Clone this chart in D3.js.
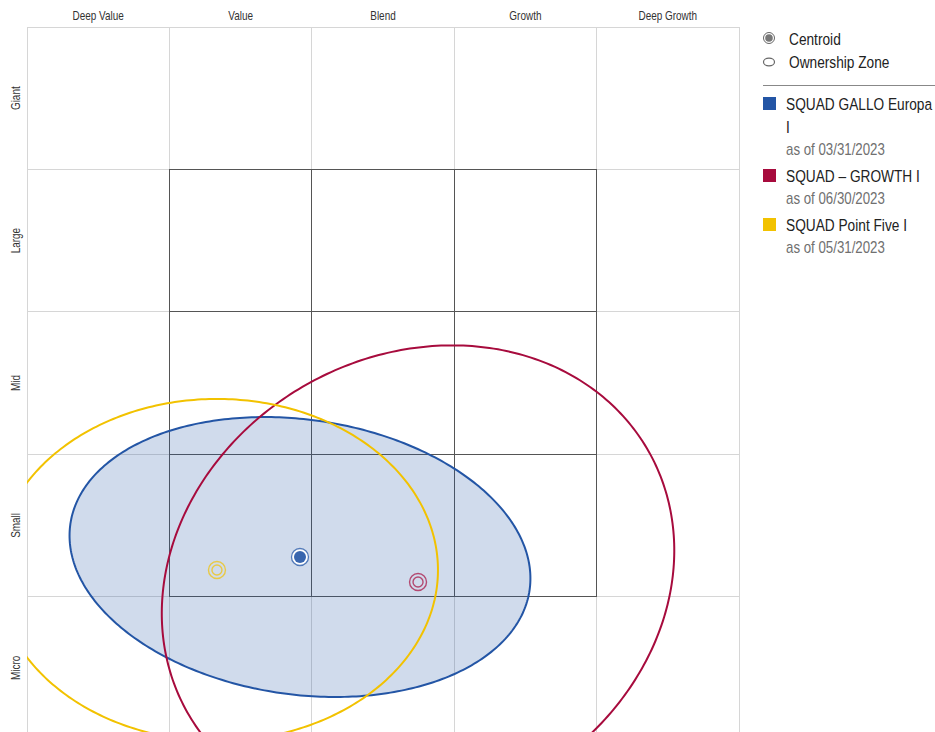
<!DOCTYPE html>
<html>
<head>
<meta charset="utf-8">
<script src="https://cdn.jsdelivr.net/npm/d3@7"></script>
<style>
  html, body { margin: 0; padding: 0; background: #fff; }
  svg { display: block; }
  text { font-family: "Liberation Sans", Arial, sans-serif; }
</style>
</head>
<body>
<div id="chart"></div>
<script>
// ---- data ----
const styleLabels = ["Deep Value", "Value", "Blend", "Growth", "Deep Growth"];
const sizeLabels = ["Giant", "Large", "Mid", "Small", "Micro"];
const fundNames = ["SQUAD GALLO Europa I", "SQUAD \u2013 GROWTH I", "SQUAD Point Five I"];
const asOfDates = ["as of 03/31/2023", "as of 06/30/2023", "as of 05/31/2023"];
const fundColors = ["#2355a5", "#a70b3d", "#f2c200"];
// centroid positions (style score 0-5 left→right, size score 0-5 bottom→top)
const centroidX = [1.917, 2.746, 1.334];
const centroidY = [1.278, 1.103, 1.187];
// ownership zone ellipses (semi-axes in grid units, rotation in degrees)
const zoneRx = [1.629, 1.861, 1.552];
const zoneRy = [0.965, 1.592, 1.201];
const zoneAngle = [-8.2, 29.5, 0];
const zoneFilled = [true, false, false];

const W = 935, H = 732;
const NARROW = 0.83; // horizontal condensing to mimic a narrow font
const svg = d3.select("#chart").append("svg").attr("width", W).attr("height", H);

const x = d3.scaleLinear().domain([0, 5]).range([27, 739]);
const y = d3.scaleLinear().domain([0, 5]).range([739, 27]);

function ntext(parent, tx, ty, str, size, fill, anchor, rot) {
  return parent.append("text")
    .attr("transform", `translate(${tx},${ty})` + (rot ? ` rotate(${rot})` : "") + ` scale(${NARROW},1)`)
    .attr("font-size", size).attr("fill", fill).attr("text-anchor", anchor || "start").text(str);
}

// clip
svg.append("defs").append("clipPath").attr("id", "plotClip")
  .append("rect").attr("x", x(0)).attr("y", y(5)).attr("width", x(5) - x(0)).attr("height", y(0) - y(5));

// light grid
const grid = svg.append("g");
d3.range(0, 6).forEach(i => {
  grid.append("line").attr("x1", x(i)).attr("x2", x(i)).attr("y1", y(5)).attr("y2", y(0))
    .attr("stroke", "#d6d6d6").attr("stroke-width", 1).attr("shape-rendering", "crispEdges");
  grid.append("line").attr("x1", x(0)).attr("x2", x(5)).attr("y1", y(i)).attr("y2", y(i))
    .attr("stroke", "#d6d6d6").attr("stroke-width", 1).attr("shape-rendering", "crispEdges");
});
// inner 3x3 box (dark)
d3.range(1, 5).forEach(i => {
  grid.append("line").attr("x1", x(i)).attr("x2", x(i)).attr("y1", y(4)).attr("y2", y(1))
    .attr("stroke", "#555").attr("stroke-width", 1).attr("shape-rendering", "crispEdges");
  grid.append("line").attr("x1", x(1)).attr("x2", x(4)).attr("y1", y(i)).attr("y2", y(i))
    .attr("stroke", "#555").attr("stroke-width", 1).attr("shape-rendering", "crispEdges");
});

// axis labels
const axg = svg.append("g");
styleLabels.forEach((d, i) => ntext(axg, x(i + 0.5), 20, d, 12, "#333", "middle"));
sizeLabels.forEach((d, i) => ntext(axg, 20, y(4.5 - i), d, 12, "#333", "middle", -90));

// ellipses
const angles = d3.range(0, 360, 1);
function ellipsePts(i) {
  const th = zoneAngle[i] * Math.PI / 180;
  return angles.map(t => {
    const r = t * Math.PI / 180;
    const ex = zoneRx[i] * Math.cos(r), ey = zoneRy[i] * Math.sin(r);
    return [centroidX[i] + ex * Math.cos(th) - ey * Math.sin(th),
            centroidY[i] + ex * Math.sin(th) + ey * Math.cos(th)];
  });
}
const line = d3.line().x(d => x(d[0])).y(d => y(d[1])).curve(d3.curveLinearClosed);
const zones = svg.append("g").attr("clip-path", "url(#plotClip)");
fundNames.forEach((n, i) => {
  if (zoneFilled[i]) {
    zones.append("path").attr("d", line(ellipsePts(i)))
      .attr("fill", fundColors[i]).attr("fill-opacity", 0.21).attr("stroke", "none");
  }
});
fundNames.forEach((n, i) => {
  zones.append("path").attr("d", line(ellipsePts(i)))
    .attr("fill", "none").attr("stroke", fundColors[i]).attr("stroke-width", 2);
});

// centroids
const cents = svg.append("g");
fundNames.forEach((n, i) => {
  const g = cents.append("g").attr("transform", `translate(${x(centroidX[i])},${y(centroidY[i])})`);
  if (zoneFilled[i]) {
    g.append("circle").attr("r", 8.5).attr("fill", "#fff").attr("stroke", fundColors[i]).attr("stroke-width", 1.3).attr("stroke-opacity", 0.75);
    g.append("circle").attr("r", 6).attr("fill", fundColors[i]).attr("fill-opacity", 0.9);
  } else {
    g.append("circle").attr("r", 8.5).attr("fill", "none").attr("stroke", fundColors[i]).attr("stroke-width", 1.4).attr("stroke-opacity", 0.7);
    g.append("circle").attr("r", 5).attr("fill", "none").attr("stroke", fundColors[i]).attr("stroke-width", 1.4).attr("stroke-opacity", 0.7);
  }
});

// legend
const lg = svg.append("g");
lg.append("circle").attr("cx", 769).attr("cy", 38).attr("r", 5.5).attr("fill", "#fff").attr("stroke", "#666").attr("stroke-width", 1);
lg.append("circle").attr("cx", 769).attr("cy", 38).attr("r", 3.8).attr("fill", "#777");
ntext(lg, 789, 44.5, "Centroid", 16.5, "#222");
lg.append("ellipse").attr("cx", 769).attr("cy", 62).attr("rx", 5.5).attr("ry", 3.8).attr("fill", "none").attr("stroke", "#666").attr("stroke-width", 1.2);
ntext(lg, 789, 68, "Ownership Zone", 16.5, "#222");
lg.append("line").attr("x1", 763).attr("x2", 935).attr("y1", 85.5).attr("y2", 85.5).attr("stroke", "#888").attr("stroke-width", 1);

let ly = 110;
const maxW = 150;
fundNames.forEach((n, i) => {
  lg.append("rect").attr("x", 763).attr("y", ly - 13).attr("width", 13).attr("height", 13).attr("fill", fundColors[i]);
  const words = n.split(" ");
  let cur = [];
  const t = ntext(lg, 786, ly, "", 16.5, "#222");
  const lines = [];
  words.forEach(w => {
    const test = cur.concat([w]).join(" ");
    t.text(test);
    if (t.node().getComputedTextLength() * NARROW > maxW && cur.length) {
      lines.push(cur.join(" "));
      cur = [w];
    } else cur.push(w);
  });
  lines.push(cur.join(" "));
  t.text(lines[0]);
  for (let k = 1; k < lines.length; k++) {
    ly += 23;
    ntext(lg, 786, ly, lines[k], 16.5, "#222");
  }
  ly += 21.5;
  ntext(lg, 786, ly, asOfDates[i], 16, "#707070");
  ly += 27.5;
});
</script>
</body>
</html>
